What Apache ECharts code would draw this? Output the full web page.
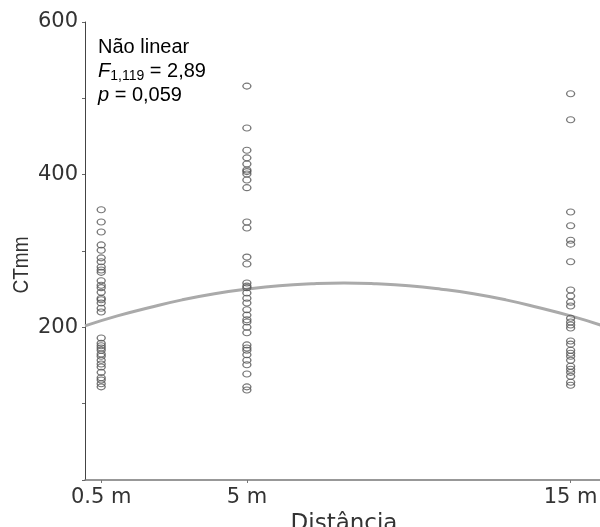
<!DOCTYPE html>
<html>
<head>
<meta charset="utf-8">
<script src="https://cdn.jsdelivr.net/npm/echarts@6/dist/echarts.min.js"></script>
<style>html,body{margin:0;padding:0;background:#fff;}#c{width:600px;height:527px;}</style>
</head>
<body>
<div id="c"></div>
<script>
// Distances (m) and CTmm values
const distances = [0.5, 5, 15];
const xTickLabels = ['0.5 m', '5 m', '15 m'];
const yTickLabels = [200, 400, 600];
const ct_0_5m = [354, 338, 325, 308, 301, 291, 286, 279, 275, 272, 261, 255, 252, 246, 238, 236, 232, 225, 220,
  186, 179, 176, 173, 170, 165, 162, 157, 152, 148, 141, 134, 131, 126, 122];
const ct_5m = [516, 461, 432, 422, 414, 406, 404, 401, 393, 383, 338, 330, 292, 283, 258, 254, 252, 245, 238, 232,
  223, 216, 210, 207, 200, 193, 177, 173, 170, 164, 157, 151, 139, 122, 118];
const ct_15m = [506, 472, 351, 333, 314, 309, 286, 249, 241, 233, 228, 212, 207, 203, 199, 182, 178, 170, 166,
  162, 157, 149, 145, 141, 136, 128, 124];
// Fitted (non-linear) curve
const curveX = [0, 1, 2, 3, 4, 5, 6, 7, 8, 9, 10, 11, 12, 13, 14, 15, 16];
const curveY = [202, 215, 226, 236, 244, 250, 254.5, 257, 258, 257, 254.5, 250, 244, 236, 226, 215, 202];

const groups = [ct_0_5m, ct_5m, ct_15m];
const scatterData = [];
groups.forEach((g, i) => g.forEach(v => scatterData.push([distances[i], v])));
const curveData = curveX.map((x, i) => [x, curveY[i]]);

const font = '"Liberation Sans", Arial, sans-serif';
const dv = '"DejaVu Sans", sans-serif';
const chart = echarts.init(document.getElementById('c'), null, {renderer: 'canvas'});
chart.setOption({
  animation: false,
  backgroundColor: '#fff',
  grid: {left: 85, top: 22, bottom: 47, right: -3, containLabel: false, outerBoundsMode: 'none'},
  xAxis: {
    type: 'value', min: 0, max: 16,
    name: 'Distância', nameLocation: 'middle', nameGap: 27,
    nameTextStyle: {fontFamily: dv, fontSize: 23, color: '#333'},
    axisLine: {show: true, lineStyle: {color: '#777', width: 1.5}},
    axisTick: {show: true, customValues: distances, length: 3, lineStyle: {color: '#777'}},
    axisLabel: {
      customValues: distances, margin: 7,
      formatter: v => xTickLabels[distances.indexOf(v)] || '',
      fontFamily: dv, fontSize: 21, color: '#333'
    },
    splitLine: {show: false}
  },
  yAxis: {
    type: 'value', min: 0, max: 600, interval: 100,
    axisLine: {show: true, lineStyle: {color: '#444', width: 1}},
    axisTick: {show: true, length: 3, lineStyle: {color: '#666'}},
    axisLabel: {
      margin: 7,
      formatter: v => yTickLabels.indexOf(v) >= 0 ? String(v) : '',
      fontFamily: dv, fontSize: 21, color: '#333'
    },
    splitLine: {show: false}
  },
  graphic: [
    {type: 'text', x: 22, y: 265, rotation: Math.PI / 2, scaleY: 1.2,
      style: {text: 'CTmm', font: '19px ' + font, fill: '#333', align: 'center', verticalAlign: 'middle'}},
    {type: 'text', x: 98, y: 35,
      style: {
        text: 'Não linear\n{i|F}{sub|1,119} = 2,89\n{i|p} = 0,059',
        font: '20px ' + font, fill: '#000', lineHeight: 24,
        rich: {
          i: {fontStyle: 'italic', fontSize: 20, fontFamily: font, fill: '#000', lineHeight: 24},
          sub: {fontSize: 14, fontFamily: font, fill: '#000', lineHeight: 24, padding: [10, 0, 0, 0]}
        }
      }}
  ],
  series: [
    {type: 'line', data: curveData, smooth: true, showSymbol: false, symbol: 'none',
      lineStyle: {color: '#aaa', width: 3}, z: 2, silent: true},
    {type: 'scatter', data: scatterData, symbol: 'circle', symbolSize: [8, 6],
      itemStyle: {color: 'rgba(0,0,0,0)', borderColor: '#555', borderWidth: 1.2}, z: 3}
  ]
});
</script>
</body>
</html>
